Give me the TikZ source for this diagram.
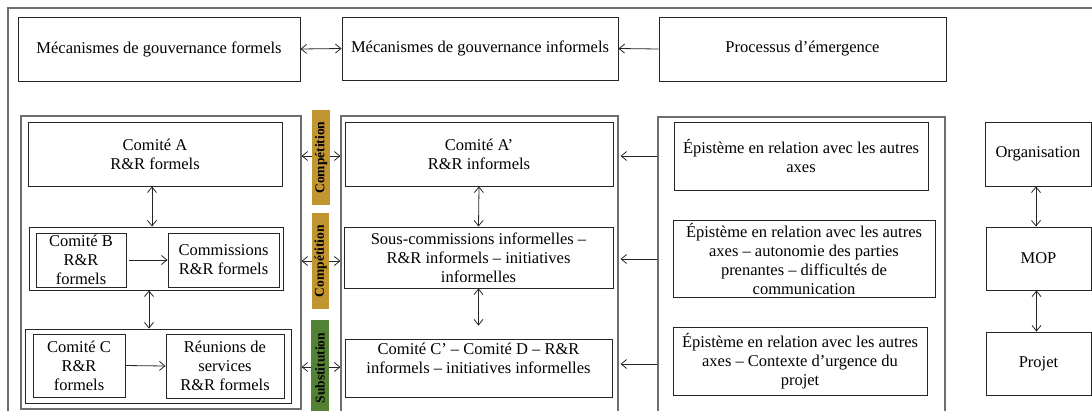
\documentclass[tikz,border=0pt]{standalone}
\usepackage{fontspec}
\setmainfont{Liberation Serif}
\usetikzlibrary{arrows.meta}
\definecolor{ocre}{RGB}{193,149,48}
\definecolor{vert}{RGB}{84,130,53}
\definecolor{frame}{RGB}{110,110,110}
\tikzset{
  txt/.style={font=\fontsize{16.5}{19}\selectfont, align=center, inner sep=0pt},
  box/.style={txt, draw=black!85, line width=0.9pt},
  cont/.style={draw=frame, line width=1.1pt, inner sep=0pt},
  tag/.style={fill=#1, inner sep=0pt, rotate=90,
    font=\fontsize{13.5}{15}\selectfont\bfseries},
  tip/.style={-{Straight Barb[length=5.5pt,width=9pt]}, line width=0.8pt, black!85},
  dtip/.style={{Straight Barb[length=5.5pt,width=9pt]}-{Straight Barb[length=5.5pt,width=9pt]}, line width=0.8pt, black!85},
}
\begin{document}
\begin{tikzpicture}[x=1pt,y=-1pt]
\useasboundingbox (0,0) rectangle (1092,410);
\clip (0,0) rectangle (1092,410);

% outer frame
\draw[frame, line width=1.1pt] (8,8) rectangle (1110,440);

% top row
\node[box, minimum width=282pt, minimum height=64pt] (fg) at (159,49) {Mécanismes de gouvernance formels};
\node[box, minimum width=276pt, minimum height=63pt] (ig) at (480,48.5) {Mécanismes de gouvernance informels};
\node[box, minimum width=287pt, minimum height=64pt] (pe) at (802.5,49) {Processus d’émergence};
\draw[dtip] (fg.east) -- (ig.west);
\draw[tip] (pe.west) -- (ig.east);

% containers
\node[cont, minimum width=280pt, minimum height=293pt] (c1) at (161,262.5) {};
\node[cont, minimum width=277pt, minimum height=309pt] (c2) at (479.5,270.5) {};
\node[cont, minimum width=287pt, minimum height=308pt] (c3) at (801.5,271) {};

% formal column
\node[box, minimum width=254pt, minimum height=64pt] (A) at (155,154) {Comité A\\R\&R formels};
\node[box, minimum width=254pt, minimum height=63pt] (gB) at (156,258.5) {};
\node[box, minimum width=90pt, minimum height=54pt] (B) at (81,260) {Comité B\\R\&R\\formels};
\node[box, minimum width=111pt, minimum height=54pt] (Cm) at (223.5,260) {Commissions\\R\&R formels};
\node[box, minimum width=266pt, minimum height=74pt] (gC) at (158,366) {};
\node[box, minimum width=92pt, minimum height=63pt] (C) at (79,365.5) {Comité C\\R\&R\\formels};
\node[box, minimum width=118pt, minimum height=64pt] (R) at (225,366) {Réunions de\\services\\R\&R formels};
\draw[dtip] ([xshift=-3pt]A.south) -- ([xshift=-3pt]A.south |- gB.north);
\draw[dtip] ([xshift=-7pt]gB.south) -- ([xshift=-7pt]gB.south |- gC.north);
\draw[tip, shorten <=3pt] (B.east) -- (Cm.west);
\draw[tip] (C.east) -- (R.west);

% informal column
\node[box, minimum width=268pt, minimum height=64pt] (Ai) at (479,154) {Comité A’\\R\&R informels};
\node[box, minimum width=269pt, minimum height=61pt] (Si) at (478.5,257.5) {Sous-commissions informelles –\\R\&R informels – initiatives\\informelles};
\node[box, minimum width=267pt, minimum height=58pt] (Ci) at (478.5,368) {Comité C’ – Comité D – R\&R\\informels – initiatives informelles\\\mbox{}};
\draw[dtip] (Ai.south) -- (Si.north);
\draw[dtip, shorten >=13pt] (Si.south) -- (Si.south |- Ci.north);

% emergence column
\node[box, minimum width=254pt, minimum height=68pt] (E1) at (801,156) {Épistème en relation avec les autres\\axes};
\node[box, minimum width=262pt, minimum height=77pt] (E2) at (804,258.5) {Épistème en relation avec les autres\\axes – autonomie des parties\\prenantes – difficultés de\\communication};
\node[box, minimum width=254pt, minimum height=68pt] (E3) at (800,361) {Épistème en relation avec les autres\\axes – Contexte d’urgence du\\projet};

% links between columns
\draw[dtip] (c1.east |- 0,156) coordinate (l1) -- (c2.west |- l1);
\draw[dtip] (c1.east |- 0,261) coordinate (l2) -- (c2.west |- l2);
\draw[dtip] (c1.east |- 0,367) coordinate (l3) -- (c2.west |- l3);
\draw[tip, shorten >=2pt] (c3.west |- 0,156) coordinate (r1) -- (c2.east |- r1);
\draw[tip, shorten >=2pt] (c3.west |- 0,259) coordinate (r2) -- (c2.east |- r2);
\draw[tip, shorten >=2pt] (c3.west |- 0,364) coordinate (r3) -- (c2.east |- r3);

% relation tags
\node[tag=ocre, minimum width=95pt, minimum height=18pt] (t1) at (321,157.5) {Compétition};
\node[tag=ocre, minimum width=96pt, minimum height=17pt] (t2) at (320.5,261) {Compétition};
\node[tag=vert, minimum width=96pt, minimum height=18pt] (t3) at (320,368) {Substitution};

% levels
\node[box, minimum width=106pt, minimum height=64pt] (O) at (1038,154) {Organisation};
\node[box, minimum width=105pt, minimum height=63pt] (M) at (1038.5,258.5) {MOP};
\node[box, minimum width=105pt, minimum height=63pt] (P) at (1038.5,363.5) {Projet};
\draw[dtip] ([xshift=-2pt]O.south) -- ([xshift=-2pt]O.south |- M.north);
\draw[dtip] ([xshift=-2pt]M.south) -- ([xshift=-2pt]M.south |- P.north);
\end{tikzpicture}
\end{document}
